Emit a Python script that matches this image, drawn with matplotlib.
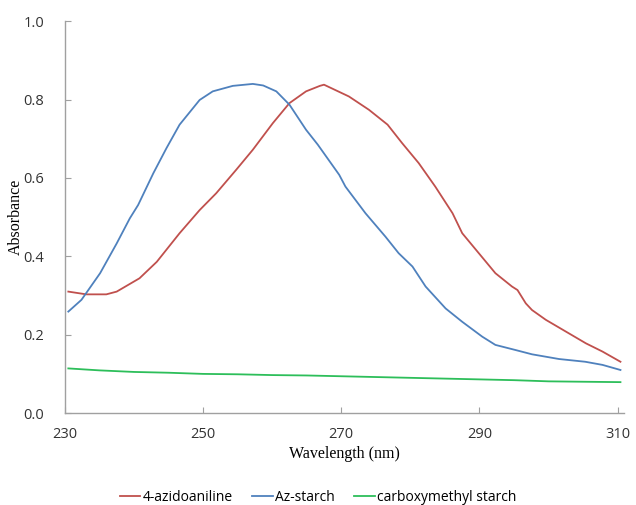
import numpy as np
import matplotlib
matplotlib.use("Agg")
import matplotlib.pyplot as plt

# wavelength (nm) / absorbance
wl_azido = [230.5, 233.1, 236.0, 237.5, 240.8, 243.3, 246.6, 249.5, 251.9, 254.8,
            257.2, 260.1, 262.5, 264.9, 266.9, 267.5, 271.1, 274.0, 276.7, 278.8,
            281.2, 283.6, 286.1, 287.5, 289.9, 292.3, 294.7, 295.5, 296.7, 297.6,
            299.6, 302.5, 305.4, 307.8, 310.4]
abs_azido = [0.310, 0.303, 0.303, 0.310, 0.344, 0.386, 0.459, 0.518, 0.561, 0.621,
             0.672, 0.740, 0.791, 0.821, 0.835, 0.838, 0.808, 0.774, 0.736, 0.689,
             0.638, 0.578, 0.510, 0.459, 0.408, 0.357, 0.323, 0.314, 0.280, 0.263,
             0.238, 0.208, 0.178, 0.157, 0.131]

wl_azstarch = [230.5, 232.4, 235.1, 237.5, 239.4, 240.6, 242.8, 244.7, 246.6, 249.5,
               251.4, 254.3, 257.2, 258.7, 260.6, 262.5, 264.9, 266.6, 269.7, 270.6,
               273.5, 276.4, 278.3, 280.3, 282.2, 285.1, 287.5, 290.4, 292.3, 295.2,
               297.6, 301.5, 305.3, 307.8, 310.4]
abs_azstarch = [0.259, 0.289, 0.357, 0.433, 0.497, 0.531, 0.612, 0.676, 0.736, 0.799,
                0.821, 0.835, 0.840, 0.836, 0.821, 0.787, 0.723, 0.685, 0.608, 0.578,
                0.510, 0.450, 0.408, 0.374, 0.323, 0.267, 0.233, 0.195, 0.174, 0.161,
                0.150, 0.138, 0.131, 0.123, 0.110]

wl_cms = [230.5, 235, 240, 245, 250, 255, 260, 265, 270, 275, 280, 285, 290, 295,
          300, 305, 310.4]
abs_cms = [0.114, 0.109, 0.105, 0.103, 0.100, 0.099, 0.097, 0.096, 0.094, 0.092,
           0.090, 0.088, 0.086, 0.084, 0.081, 0.080, 0.079]

xticks = [230, 250, 270, 290, 310]
yticks = [0.0, 0.2, 0.4, 0.6, 0.8, 1.0]

fig = plt.figure(figsize=(6.36, 5.05), dpi=100)
ax = fig.add_axes([0.102, 0.182, 0.879, 0.776])

ax.plot(wl_azido, abs_azido, color="#C0504D", lw=1.3, label="4-azidoaniline")
ax.plot(wl_azstarch, abs_azstarch, color="#4F81BD", lw=1.3, label="Az-starch")
ax.plot(wl_cms, abs_cms, color="#2DBE5A", lw=1.3, label="carboxymethyl starch")

ax.set_xlim(230, 310.9)
ax.set_ylim(0, 1.0)
ax.set_xticks(xticks)
ax.set_yticks(yticks)
ax.set_yticklabels(["%.1f" % v for v in yticks])

for s in ["top", "right"]:
    ax.spines[s].set_visible(False)
for s in ["left", "bottom"]:
    ax.spines[s].set_color("#A0A0A0")
    ax.spines[s].set_linewidth(1.0)

ax.tick_params(axis="both", direction="in", length=4, color="#A0A0A0",
               labelsize=10.5, labelcolor="#333333")
ax.tick_params(axis="y", pad=15)
ax.tick_params(axis="x", pad=10)

serif = "Liberation Serif"
ax.set_ylabel("Absorbance", family=serif, fontsize=11.5)
ax.yaxis.set_label_coords(-0.074, 0.5)
ax.set_xlabel("Wavelength (nm)", family=serif, fontsize=11.5, labelpad=3)

for t in ax.get_xticklabels() + ax.get_yticklabels():
    t.set_family("Open Sans")

fig.legend(loc="lower center", bbox_to_anchor=(0.5, -0.024), ncol=3, frameon=False,
           handlelength=1.5, handletextpad=0.15, columnspacing=1.4,
           prop={"family": "Open Sans", "size": 10})

fig.savefig("out.png", dpi=100)
